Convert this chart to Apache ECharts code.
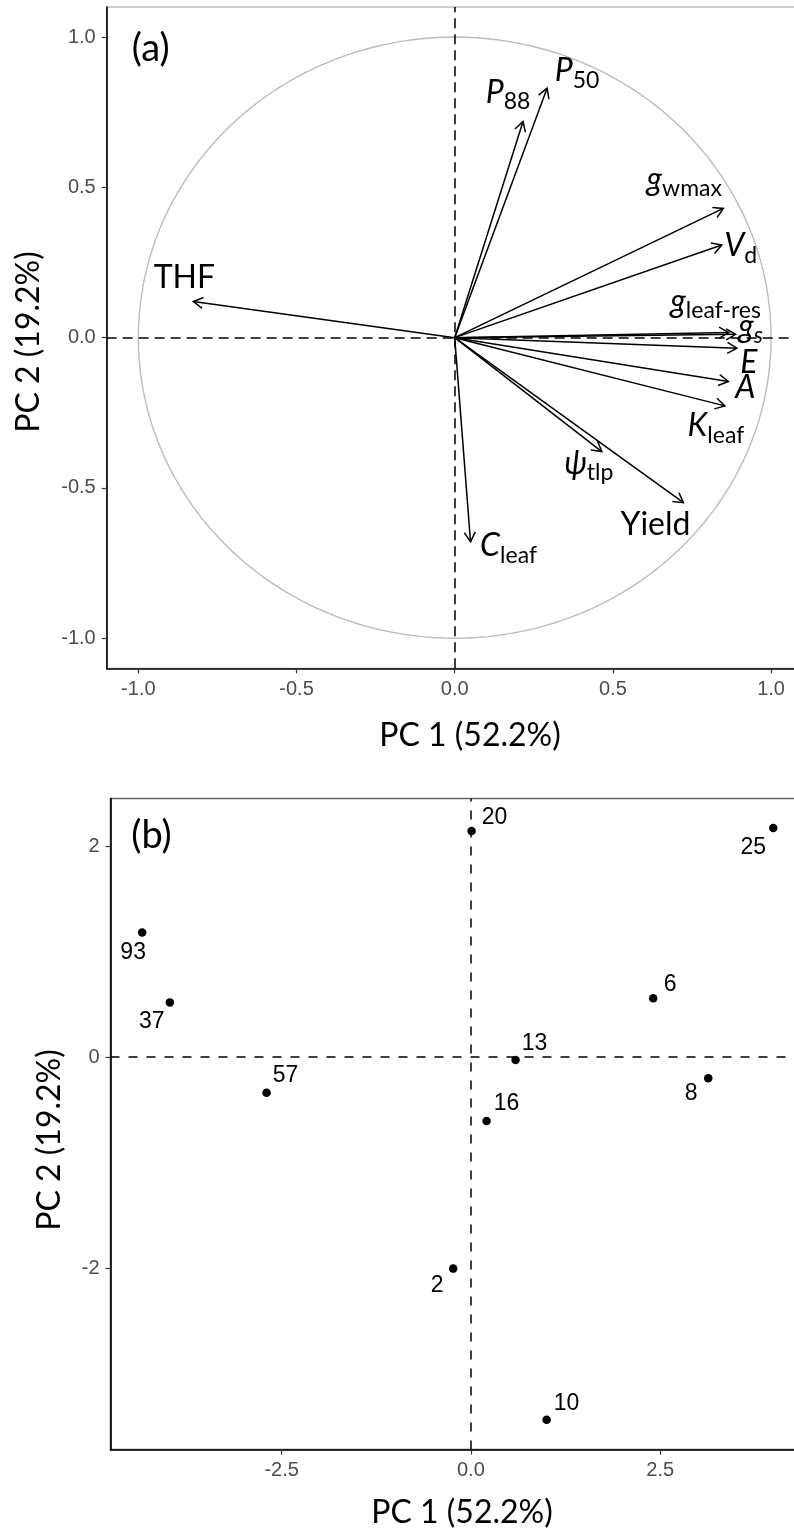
<!DOCTYPE html>
<html>
<head>
<meta charset="utf-8">
<script src="https://cdn.jsdelivr.net/npm/echarts@6/dist/echarts.min.js"></script>
<style>
  html, body { margin: 0; padding: 0; background: #fff; }
  #chart { width: 794px; height: 1535px; }
</style>
</head>
<body>
<div id="chart"></div>
<script>
// (a) variable loadings on the first two principal components
const variables = ['THF', 'P88', 'P50', 'gwmax', 'Vd', 'gleaf-res', 'gs', 'E', 'A', 'Kleaf', 'psitlp', 'Yield', 'Cleaf'];
const loadingPC1 = [-0.826, 0.216, 0.292, 0.849, 0.844, 0.866, 0.888, 0.892, 0.865, 0.854, 0.465, 0.723, 0.050];
const loadingPC2 = [0.120, 0.719, 0.830, 0.430, 0.308, 0.017, 0.011, -0.035, -0.146, -0.227, -0.379, -0.549, -0.679];
const variableLabels = [
  '{r|THF}', '{i|P}{s|88}', '{i|P}{s|50}', '{i|g}{s|wmax}', '{i|V}{s|d}',
  '{i|g}{s|leaf-res}', '{i|g}{si|s}', '{i|E}', '{i|A}', '{i|K}{s|leaf}',
  '{i|ψ}{s|tlp}', '{r|Yield}', '{i|C}{s|leaf}'
];

// (b) genotype scores
const genotypes = ['93', '37', '57', '20', '25', '6', '13', '8', '16', '2', '10'];
const scorePC1 = [-4.342, -3.976, -2.699, 0.009, 3.993, 2.408, 0.590, 3.135, 0.207, -0.234, 1.000];
const scorePC2 = [1.181, 0.518, -0.338, 2.143, 2.171, 0.556, -0.028, -0.202, -0.606, -2.005, -3.438];

// tick values
const loadingTicks = [-1, -0.5, 0, 0.5, 1];
const scoreTicksX = [-2.5, 0, 2.5];
const scoreTicksY = [-2, 0, 2];

// label placement (pixel nudges from the arrow tip / point)
const varLabelNudge = {
  'THF': [-9, -24], 'P88': [-15, -29], 'P50': [30, -17], 'gwmax': [-39, -29],
  'Vd': [19, 1], 'gleaf-res': [-13, -31], 'gs': [15, -8], 'E': [12, 15],
  'A': [17, 6], 'Kleaf': [-9, 20], 'psitlp': [-13, 12], 'Yield': [-28, 22], 'Cleaf': [38, 4]
};
const scoreLabelNudge = {
  '93': [-9, 20], '37': [-18, 19], '57': [19, -17], '20': [23, -13], '25': [-20, 20],
  '6': [17, -14], '13': [19, -16], '8': [-17, 15], '16': [20, -17], '2': [-16, 17], '10': [20, -16]
};

const TITLE_FONT = 'Lato, "Open Sans", sans-serif';
const TICK_FONT = '"Liberation Sans", Arial, sans-serif';

const labelRich = {
  r:  { fontFamily: TITLE_FONT, fontSize: 32, lineHeight: 42, fill: '#000' },
  i:  { fontFamily: TITLE_FONT, fontStyle: 'italic', fontSize: 32, lineHeight: 42, fill: '#000' },
  s:  { fontFamily: TITLE_FONT, fontSize: 23, lineHeight: 23, verticalAlign: 'bottom', fill: '#000' },
  si: { fontFamily: TITLE_FONT, fontStyle: 'italic', fontSize: 23, lineHeight: 23, verticalAlign: 'bottom', fill: '#000' }
};

function valueAxis(gridIndex, min, max, ticks, fmt) {
  return {
    type: 'value', gridIndex, min, max,
    axisLine: { show: true, onZero: false, lineStyle: { color: '#000', width: 1.6 } },
    axisTick: { show: true, customValues: ticks, length: 5, lineStyle: { color: '#333', width: 1.2 } },
    axisLabel: { customValues: ticks, formatter: fmt, margin: 11, color: '#4d4d4d', fontFamily: TICK_FONT, fontSize: 20 },
    splitLine: { show: false }
  };
}

const zeroLines = (dash) => ({
  silent: true, symbol: 'none', label: { show: false },
  lineStyle: { color: '#000', width: 1.5, type: dash },
  data: [{ xAxis: 0 }, { yAxis: 0 }]
});

const chart = echarts.init(document.getElementById('chart'), null, { renderer: 'canvas' });

chart.setOption({
  animation: false,
  backgroundColor: '#fff',
  grid: [
    { left: 106.7, top: 7, width: 696, height: 661.3, show: true, borderColor: '#9a9a9a', borderWidth: 1,
      backgroundColor: 'transparent', containLabel: false, outerBoundsMode: 'none' },
    { left: 110.5, top: 798.5, width: 694.3, height: 651.1, show: true, borderColor: '#666', borderWidth: 1.5,
      backgroundColor: 'transparent', containLabel: false, outerBoundsMode: 'none' }
  ],
  xAxis: [
    valueAxis(0, -1.1, 1.1, loadingTicks, v => v.toFixed(1)),
    valueAxis(1, -4.76, 4.41, scoreTicksX, v => v.toFixed(1))
  ],
  yAxis: [
    valueAxis(0, -1.1, 1.1, loadingTicks, v => v.toFixed(1)),
    valueAxis(1, -3.72, 2.45, scoreTicksY, v => v.toFixed(0))
  ],
  series: [
    {
      // unit correlation circle
      type: 'custom', xAxisIndex: 0, yAxisIndex: 0, silent: true, clip: false,
      data: [[0, 0]],
      renderItem(params, api) {
        const pts = [];
        for (let k = 0; k <= 360; k += 2) {
          const t = k * Math.PI / 180;
          pts.push(api.coord([Math.cos(t), Math.sin(t)]));
        }
        return { type: 'polyline', shape: { points: pts }, style: { stroke: '#bdbdbd', lineWidth: 1.4, fill: null } };
      },
      markLine: zeroLines([10, 6])
    },
    {
      // loading arrows
      type: 'custom', xAxisIndex: 0, yAxisIndex: 0, silent: true, clip: false,
      data: variables.map((v, i) => [loadingPC1[i], loadingPC2[i]]),
      renderItem(params, api) {
        const i = params.dataIndex;
        const o = api.coord([0, 0]);
        const t = api.coord([api.value(0), api.value(1)]);
        const ang = Math.atan2(t[1] - o[1], t[0] - o[0]);
        const L = 11, a = Math.PI / 6;
        const p1 = [t[0] - L * Math.cos(ang - a), t[1] - L * Math.sin(ang - a)];
        const p2 = [t[0] - L * Math.cos(ang + a), t[1] - L * Math.sin(ang + a)];
        const n = varLabelNudge[variables[i]];
        return {
          type: 'group',
          children: [
            { type: 'line', shape: { x1: o[0], y1: o[1], x2: t[0], y2: t[1] }, style: { stroke: '#000', lineWidth: 1.5 } },
            { type: 'polyline', shape: { points: [p1, t, p2] }, style: { stroke: '#000', lineWidth: 1.5, fill: null } },
            { type: 'text', x: t[0] + n[0], y: t[1] + n[1],
              style: { text: variableLabels[i], rich: labelRich, align: 'center', verticalAlign: 'middle' } }
          ]
        };
      }
    },
    {
      // genotype scores
      type: 'scatter', xAxisIndex: 1, yAxisIndex: 1, silent: true,
      symbol: 'circle', symbolSize: 8.5,
      itemStyle: { color: '#000', opacity: 1 },
      data: genotypes.map((g, i) => ({ name: g, value: [scorePC1[i], scorePC2[i]], label: { offset: scoreLabelNudge[g] } })),
      label: { show: true, position: 'inside', formatter: '{b}', color: '#000', opacity: 1, fontFamily: TICK_FONT, fontSize: 23 },
      markLine: zeroLines([9, 9])
    }
  ],
  graphic: [
    { type: 'text', x: 470, y: 736, silent: true,
      style: { text: 'PC 1 (52.2%)', fontFamily: TITLE_FONT, fontSize: 32, fill: '#000', align: 'center', verticalAlign: 'middle' } },
    { type: 'text', x: 28.5, y: 342, rotation: Math.PI / 2, silent: true,
      style: { text: 'PC 2 (19.2%)', fontFamily: TITLE_FONT, fontSize: 32, fill: '#000', align: 'center', verticalAlign: 'middle' } },
    { type: 'text', x: 150.7, y: 49, silent: true,
      style: { text: '(a)', fontFamily: TITLE_FONT, fontSize: 38, fill: '#000', align: 'center', verticalAlign: 'middle' } },
    { type: 'text', x: 462, y: 1513, silent: true,
      style: { text: 'PC 1 (52.2%)', fontFamily: TITLE_FONT, fontSize: 32, fill: '#000', align: 'center', verticalAlign: 'middle' } },
    { type: 'text', x: 50, y: 1140, rotation: Math.PI / 2, silent: true,
      style: { text: 'PC 2 (19.2%)', fontFamily: TITLE_FONT, fontSize: 32, fill: '#000', align: 'center', verticalAlign: 'middle' } },
    { type: 'text', x: 151.5, y: 836, silent: true,
      style: { text: '(b)', fontFamily: TITLE_FONT, fontSize: 38, fill: '#000', align: 'center', verticalAlign: 'middle' } }
  ]
});
</script>
</body>
</html>
